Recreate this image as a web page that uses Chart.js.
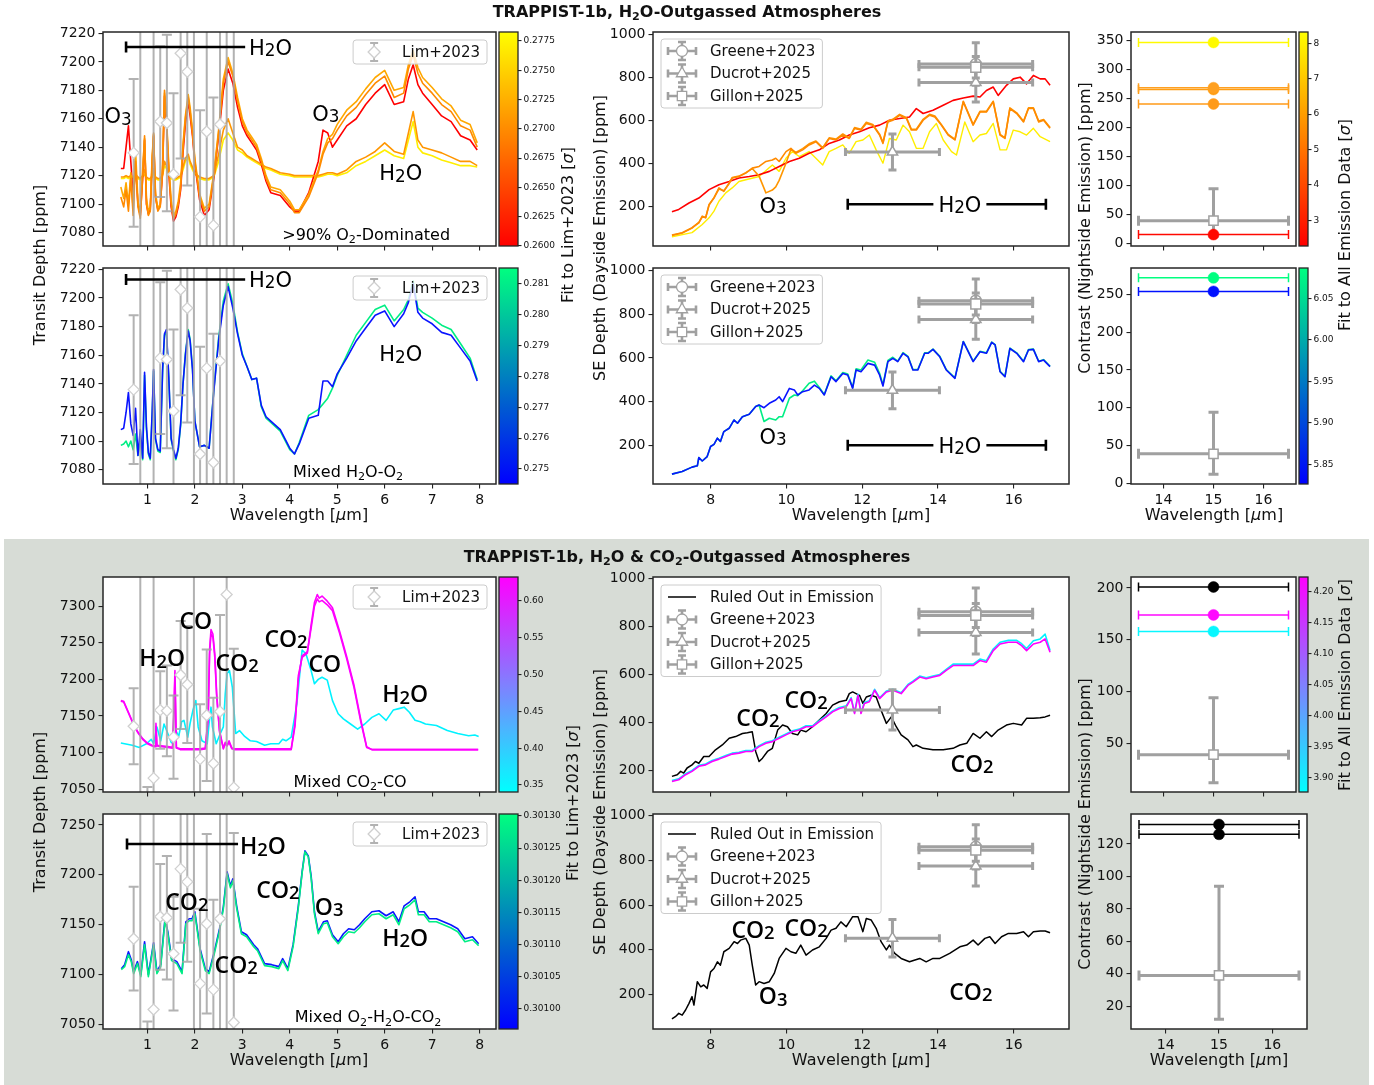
<!DOCTYPE html>
<html>
<head>
<meta charset="utf-8">
<script src="https://cdn.jsdelivr.net/npm/chart.js@4.4.1/dist/chart.umd.min.js"></script>
<style>
body{margin:0;background:#fff;}
#fig{position:relative;width:1374px;height:1085px;overflow:hidden;font-family:"DejaVu Sans",sans-serif;color:#111;}
#fig canvas{position:absolute;}
.bg{position:absolute;left:4px;top:539px;width:1365px;height:546px;background:#d7dcd6;}
.lbl{position:absolute;white-space:nowrap;font-size:16px;transform:translate(-50%,-50%);line-height:1;}
.rot{transform:translate(-50%,-50%) rotate(-90deg);}
.ttl{font-weight:bold;font-size:16px;}
sub{font-size:70%;vertical-align:-0.25em;line-height:0;}
</style>
</head>
<body>
<div id="fig"><div class="bg"></div></div>
<script>
// ---------- transmission spectra (wavelength um, depth ppm) ----------
const wlT = [0.44,0.5,0.55,0.6,0.65,0.7,0.75,0.8,0.85,0.9,
  0.94,0.98,1.02,1.06,1.1,1.13,1.17,1.22,1.27,1.32,
  1.36,1.4,1.45,1.5,1.55,1.6,1.65,1.7,1.75,1.8,
  1.86,1.9,1.95,2.0,2.1,2.2,2.3,2.4,2.5,2.6,
  2.7,2.8,2.9,3.0,3.1,3.2,3.3,3.4,3.5,3.6,
  3.8,4.0,4.1,4.2,4.4,4.6,4.7,4.8,4.9,5.0,
  5.2,5.4,5.6,5.8,6.0,6.2,6.4,6.5,6.6,6.7,
  6.8,7.0,7.2,7.4,7.6,7.8,7.95];
const o2HiA = [7105,7098,7110,7095,7118,7092,7130,7098,7090,7120,
  7148,7100,7092,7095,7130,7150,7105,7095,7098,7125,
  7180,7160,7125,7100,7090,7093,7100,7112,7140,7160,
  7175,7165,7150,7130,7105,7095,7098,7120,7150,7185,
  7200,7190,7172,7158,7150,7145,7140,7130,7118,7110,
  7108,7100,7094,7094,7105,7122,7135,7143,7146,7152,
  7162,7168,7177,7185,7190,7175,7178,7195,7205,7192,
  7185,7178,7170,7165,7155,7152,7140];
const o2HiB = [7112,7104,7115,7100,7122,7096,7138,7102,7094,7125,
  7146,7104,7095,7098,7134,7149,7108,7097,7100,7128,
  7178,7162,7128,7103,7092,7095,7102,7115,7142,7162,
  7177,7168,7152,7132,7107,7097,7100,7122,7152,7188,
  7203,7192,7175,7160,7152,7147,7142,7132,7120,7112,
  7110,7102,7096,7096,7107,7124,7137,7146,7149,7156,
  7166,7172,7181,7189,7194,7180,7182,7198,7208,7196,
  7189,7182,7174,7169,7159,7156,7143];
const o2Red = [7125,7125,7140,7155,7130,7105,7128,7100,7092,7118,
  7145,7100,7093,7096,7128,7148,7105,7096,7099,7122,
  7176,7158,7122,7098,7088,7091,7098,7110,7136,7156,
  7172,7162,7148,7128,7103,7092,7096,7118,7148,7180,
  7195,7185,7168,7155,7148,7143,7138,7128,7116,7108,
  7106,7098,7095,7095,7108,7130,7152,7150,7140,7145,
  7155,7160,7170,7178,7184,7170,7172,7188,7198,7184,
  7178,7170,7162,7158,7148,7145,7138];
const o2LowA = [7119,7119,7120,7119,7120,7119,7121,7119,7118,7120,
  7124,7119,7118,7118,7120,7125,7119,7118,7118,7121,
  7130,7127,7121,7119,7118,7118,7119,7120,7126,7132,
  7135,7130,7126,7122,7119,7118,7118,7120,7135,7152,
  7160,7150,7140,7138,7134,7132,7130,7128,7126,7125,
  7122,7121,7120,7120,7120,7120,7121,7122,7122,7121,
  7124,7130,7133,7137,7143,7137,7135,7150,7165,7145,
  7140,7138,7136,7133,7130,7130,7127];
const o2LowB = [7118,7118,7119,7118,7119,7118,7120,7118,7117,7119,
  7121,7118,7117,7117,7119,7122,7118,7117,7117,7120,
  7127,7125,7120,7118,7117,7117,7118,7119,7124,7130,
  7133,7128,7124,7121,7118,7117,7117,7119,7130,7145,
  7150,7145,7138,7136,7133,7131,7129,7127,7125,7124,
  7121,7120,7119,7119,7119,7119,7120,7121,7121,7120,
  7122,7127,7130,7134,7138,7134,7132,7145,7158,7140,
  7136,7134,7131,7129,7127,7127,7126];
const mixBlue = [7108,7109,7120,7134,7112,7104,7123,7090,7108,7088,
  7148,7110,7092,7088,7120,7150,7102,7094,7093,7150,
  7175,7178,7145,7102,7094,7088,7095,7112,7140,7160,
  7177,7170,7150,7114,7096,7097,7095,7135,7170,7195,
  7208,7193,7175,7160,7152,7143,7144,7125,7117,7114,
  7108,7095,7091,7098,7116,7118,7142,7142,7138,7147,
  7158,7170,7179,7188,7191,7180,7189,7197,7210,7190,
  7186,7182,7176,7174,7165,7156,7142];
const mixGreen = [7097,7098,7100,7096,7100,7094,7105,7090,7100,7087,
  7146,7108,7091,7087,7118,7149,7101,7093,7092,7148,
  7174,7176,7144,7101,7093,7087,7094,7111,7140,7161,
  7178,7171,7151,7114,7096,7097,7095,7136,7172,7198,
  7210,7196,7176,7161,7152,7143,7144,7124,7116,7113,
  7107,7094,7091,7099,7118,7122,7126,7130,7137,7146,
  7160,7174,7183,7192,7195,7184,7192,7199,7212,7193,
  7190,7186,7181,7178,7168,7158,7143];

const wlCO = [0.44,0.5,0.6,0.7,0.8,0.9,1.0,1.1,1.16,1.18,1.2,1.43,1.53,1.56,1.58,1.61,1.69,2.11,2.22,2.28,
  2.31,2.34,2.38,2.42,2.46,2.52,2.6,2.64,2.68,2.72,2.78,2.83,3.2,4.03,4.11,4.18,4.26,4.37,4.45,4.52,
  4.58,4.62,4.68,4.79,4.9,5.05,5.2,5.35,5.5,5.62,5.73,7.97];
const coMagA = [7171,7170,7155,7140,7128,7119,7113,7110,7109,7140,7110,7108,7107,7160,7212,7107,7105,7105,7106,7150,
  7240,7268,7262,7235,7180,7130,7106,7114,7110,7116,7106,7105,7105,7105,7140,7205,7230,7236,7275,7305,
  7316,7311,7314,7307,7298,7266,7231,7193,7144,7108,7104,7104];
const coMagB = [7170,7169,7154,7139,7127,7118,7112,7109,7108,7136,7109,7107,7106,7155,7205,7106,7104,7104,7105,7145,
  7235,7262,7258,7230,7176,7128,7105,7112,7109,7114,7105,7104,7104,7104,7136,7200,7232,7238,7270,7300,
  7310,7306,7308,7302,7294,7263,7228,7190,7141,7107,7104,7104];
const wlCy = [0.44,0.68,0.83,0.98,1.08,1.13,1.2,1.28,1.35,1.43,1.5,1.54,1.6,1.66,1.72,1.77,1.85,1.9,1.96,2.02,
  2.07,2.15,2.26,2.3,2.34,2.37,2.45,2.53,2.6,2.64,2.68,2.73,2.79,2.86,2.94,3.05,3.17,3.3,3.47,3.6,
  3.77,3.85,3.92,4.03,4.15,4.26,4.34,4.45,4.52,4.6,4.68,4.79,4.9,5.02,5.13,5.28,5.43,5.58,5.73,5.88,
  6.03,6.18,6.3,6.41,6.52,6.64,6.75,6.86,7.09,7.32,7.54,7.77,7.9,7.98];
const coCyan = [7113,7110,7107,7112,7118,7112,7135,7116,7139,7126,7114,7112,7130,7122,7142,7144,7121,7140,7158,7171,
  7135,7116,7112,7140,7162,7135,7112,7125,7135,7180,7208,7212,7189,7126,7130,7122,7116,7115,7110,7112,
  7112,7118,7116,7121,7167,7240,7235,7212,7194,7200,7203,7199,7171,7153,7146,7139,7132,7139,7148,7153,
  7144,7158,7160,7162,7155,7144,7142,7139,7137,7130,7126,7123,7124,7122];

const wlM = [0.45,0.52,0.6,0.66,0.71,0.79,0.86,0.94,1.02,1.13,1.2,1.28,1.37,1.43,1.51,1.62,1.73,1.81,1.88,1.94,
  2.0,2.03,2.11,2.22,2.3,2.41,2.52,2.6,2.68,2.75,2.8,2.88,2.98,3.09,3.24,3.32,3.47,3.62,3.77,3.85,
  3.96,4.07,4.18,4.26,4.32,4.39,4.45,4.52,4.6,4.71,4.79,4.9,5.02,5.13,5.24,5.36,5.47,5.58,5.73,5.88,
  6.03,6.18,6.3,6.41,6.53,6.64,6.71,6.83,6.94,7.09,7.24,7.39,7.54,7.69,7.85,7.98];
const mBlue = [7106,7110,7123,7115,7103,7113,7100,7133,7100,7132,7103,7110,7156,7143,7116,7113,7103,7153,7156,7156,
  7163,7153,7126,7106,7103,7123,7146,7168,7203,7189,7196,7169,7143,7140,7130,7126,7111,7110,7108,7116,
  7106,7130,7169,7203,7224,7219,7199,7163,7143,7153,7154,7140,7133,7141,7146,7145,7150,7156,7163,7164,
  7159,7163,7153,7169,7173,7178,7163,7163,7156,7156,7153,7150,7146,7136,7138,7131];
const mGreen = [7105,7108,7120,7113,7101,7111,7098,7130,7098,7130,7101,7108,7154,7141,7114,7111,7101,7151,7154,7154,
  7161,7151,7124,7104,7101,7121,7144,7166,7201,7187,7194,7167,7141,7138,7128,7124,7109,7108,7106,7114,
  7104,7128,7167,7202,7223,7218,7197,7161,7141,7151,7152,7138,7131,7138,7143,7142,7147,7153,7160,7161,
  7156,7160,7150,7166,7170,7175,7160,7160,7153,7153,7150,7147,7143,7133,7135,7129];

// Lim+2023 NIRISS points
const limX = [0.71,0.85,1.00,1.13,1.27,1.41,1.55,1.70,1.84,1.98,2.11,2.25,2.39,2.53,2.67,2.82];
const limY = [7136,7020,7030,7065,7158,7157,7121,7206,7193,7040,7091,7151,7085,7156,7316,7052];
const limErr = [52,340,23,310,53,62,57,74,80,330,75,90,90,132,300,190];

// ---------- dayside emission spectra (wavelength um, ppm) ----------
const wlRed = [6.98,7.16,7.43,7.69,7.96,8.22,8.49,8.75,9.02,9.28,9.55,9.81,10.08,10.34,10.6,10.87,11.13,11.4,11.66,11.93,
  12.19,12.46,12.72,12.99,13.25,13.43,13.61,13.87,14.14,14.4,14.67,14.93,15.11,15.28,15.46,15.59,15.81,15.99,16.17,16.34,
  16.52,16.7,16.83,16.96];
const emRed = [174,185,215,238,277,300,315,331,338,346,362,385,408,423,446,462,492,508,531,546,
  565,577,600,608,615,654,631,646,669,692,703,712,708,738,754,715,762,792,800,769,
  808,792,792,762];
const wlOr = [6.98,7.25,7.51,7.69,7.78,7.87,7.96,8.09,8.22,8.35,8.49,8.57,8.75,8.93,9.1,9.28,9.46,9.63,9.72,9.81,
  9.99,10.12,10.25,10.43,10.6,10.78,10.96,11.13,11.31,11.49,11.66,11.8,11.97,12.11,12.28,12.46,12.55,12.68,12.81,12.99,
  13.17,13.3,13.43,13.61,13.78,13.92,14.09,14.27,14.45,14.67,14.93,15.11,15.28,15.46,15.64,15.77,15.9,16.08,16.26,16.39,
  16.52,16.66,16.79,16.96];
const emOrA = [66,77,100,123,154,146,208,238,285,269,308,331,338,354,377,385,408,415,423,408,
  454,469,446,462,485,500,469,515,508,531,515,562,554,585,577,531,492,592,600,623,
  608,554,554,600,623,615,577,531,508,685,577,638,638,685,531,515,654,631,592,654,
  654,592,600,562];
const emOrB = [64,75,98,125,150,148,205,240,280,272,305,333,340,356,375,340,262,275,290,320,
  400,465,450,468,490,503,472,518,512,536,518,566,558,590,580,535,496,596,604,627,
  612,558,558,604,627,619,580,534,511,688,580,641,641,688,534,518,657,634,595,657,
  657,596,603,566];
const wlYe = [6.98,7.51,7.78,7.96,8.09,8.22,8.4,8.57,8.75,8.93,9.28,9.63,9.81,9.99,10.16,10.34,10.6,10.96,11.13,11.31,
  11.49,11.66,11.84,12.02,12.19,12.37,12.55,12.72,12.9,13.08,13.25,13.43,13.61,13.78,13.96,14.14,14.36,14.49,14.71,14.93,
  15.11,15.28,15.46,15.64,15.81,15.99,16.17,16.34,16.52,16.7,16.96];
const emYe = [58,77,115,146,177,223,262,285,315,323,338,392,362,423,454,431,454,392,454,469,
  485,446,500,508,531,462,400,515,508,577,546,469,469,546,585,508,454,438,592,500,
  531,538,585,462,462,554,546,531,562,523,500];
const wlMx = [6.98,7.25,7.51,7.65,7.69,7.78,7.91,8.0,8.09,8.18,8.26,8.35,8.49,8.62,8.71,8.84,9.02,9.19,9.28,9.41,
  9.55,9.72,9.81,9.9,10.08,10.21,10.3,10.43,10.6,10.74,10.87,11.0,11.18,11.31,11.49,11.62,11.75,11.84,11.97,12.15,
  12.33,12.46,12.55,12.68,12.81,12.94,13.08,13.21,13.34,13.47,13.65,13.74,13.87,14.05,14.22,14.45,14.67,14.93,15.11,15.28,
  15.42,15.51,15.64,15.77,15.9,16.08,16.26,16.39,16.52,16.66,16.79,16.96];
const emMxBlue = [70,82,102,108,146,130,150,196,206,234,219,264,279,317,302,332,343,378,385,373,
  393,408,423,401,461,454,431,446,454,476,461,431,514,492,529,522,461,545,537,575,
  567,522,472,583,598,583,621,605,545,545,621,621,639,605,545,507,674,583,628,621,
  671,659,537,514,643,621,583,636,639,583,590,560];
const emMxGreen = [70,82,102,108,146,130,150,196,206,234,219,264,279,317,302,332,343,378,385,310,
  325,317,332,332,416,431,428,450,484,494,465,433,518,496,533,526,465,550,545,590,
  580,530,478,588,603,585,624,607,547,547,623,623,640,607,547,509,675,585,630,623,
  672,660,539,516,645,623,585,638,640,585,592,562];
const wlRu = [6.98,7.12,7.21,7.29,7.38,7.51,7.6,7.69,7.82,7.96,8.13,8.31,8.49,8.66,8.84,8.97,9.1,9.19,9.28,9.37,
  9.5,9.63,9.77,9.9,10.03,10.16,10.3,10.38,10.52,10.69,10.87,11.05,11.22,11.4,11.58,11.66,11.75,11.84,11.93,12.02,
  12.11,12.24,12.37,12.5,12.64,12.77,12.9,13.03,13.21,13.34,13.43,13.61,13.87,14.14,14.4,14.58,14.76,14.93,15.11,15.28,
  15.42,15.59,15.81,15.99,16.21,16.34,16.52,16.7,16.83,16.96];
const emRuledCO = [175,182,196,189,210,223,237,230,258,258,286,306,334,341,354,357,361,279,237,251,
  279,292,368,389,382,354,348,368,361,382,410,437,472,486,492,520,527,520,513,479,
  506,513,506,451,396,423,382,348,327,299,306,292,286,286,292,306,313,354,334,361,
  341,368,389,396,389,417,417,419,423,430];
const wlCM = [6.98,7.16,7.34,7.51,7.69,7.87,8.04,8.22,8.4,8.57,8.75,8.93,9.1,9.28,9.46,9.63,9.81,9.99,10.16,10.34,
  10.52,10.69,10.87,11.05,11.22,11.4,11.58,11.71,11.8,11.89,11.97,12.06,12.19,12.33,12.46,12.64,12.81,13.03,13.21,13.34,
  13.52,13.69,13.87,14.05,14.22,14.4,14.67,14.93,15.11,15.28,15.46,15.64,15.86,16.08,16.21,16.34,16.52,16.7,16.83,16.96];
const emCOMag = [154,161,182,196,217,223,237,247,258,268,272,279,279,299,313,320,334,348,361,368,
  382,382,403,423,444,458,465,499,437,513,437,479,486,534,499,527,534,520,554,568,
  589,582,589,596,617,637,637,637,658,651,699,727,734,734,720,699,727,734,748,692];
const emCOCyan = [158,165,186,200,221,227,241,251,262,272,276,283,283,303,317,324,338,352,365,372,
  386,386,407,427,448,462,469,503,441,517,441,483,490,538,503,531,538,524,558,572,
  593,586,593,600,621,643,643,643,664,657,706,734,742,742,728,708,740,748,768,700];
const wlRu4 = [6.98,7.07,7.16,7.25,7.34,7.43,7.51,7.56,7.65,7.74,7.82,7.91,8.0,8.09,8.18,8.26,8.35,8.49,8.62,8.71,
  8.79,8.93,9.02,9.1,9.19,9.28,9.41,9.55,9.68,9.81,9.99,10.12,10.25,10.38,10.52,10.69,10.87,11.05,11.18,11.31,
  11.44,11.58,11.75,11.89,12.02,12.11,12.24,12.37,12.5,12.64,12.72,12.86,13.03,13.25,13.52,13.69,13.87,14.05,14.31,14.58,
  14.76,14.93,15.06,15.24,15.37,15.51,15.68,15.86,16.08,16.26,16.39,16.52,16.7,16.83,16.96];
const emRuledMix = [90,100,115,107,130,160,190,152,257,234,242,227,301,316,346,331,391,406,436,428,
  443,451,421,331,242,257,249,257,294,361,406,391,384,421,376,399,413,451,488,496,
  525,503,548,548,481,540,533,496,436,399,421,384,361,346,361,346,361,361,384,413,
  421,443,421,451,458,428,458,473,473,481,458,481,484,484,476];

// MIRI 15 / 12.8 um eclipse points
const greeneX = [15], greeneY = [861], greeneEY = [99], greeneEX = [1.5];
const ducrotX = [12.8, 15], ducrotY = [452, 775], ducrotEY = [84, 90], ducrotEX = [1.24, 1.5];
const gillonX = [15], gillonY = [846], gillonEY = [50], gillonEX = [1.5];

// nightside contrast
const nightX = [15], nightY = [39], nightErrY = [[12, 94]], nightErrX = [1.5];
const ncH2O = [346, 268, 265, 240, 15];
const ncMix = [272, 254];
const ncCO = [201, 174, 158];
const ncMix2 = [132, 126];

// tick labels
const tT1 = [7080,7100,7120,7140,7160,7180,7200,7220];
const tT3 = [7050,7100,7150,7200,7250,7300];
const tT4 = [7050,7100,7150,7200,7250];
const tE = [200,400,600,800,1000];
const tN1 = [0,50,100,150,200,250,300,350];
const tN2 = [0,50,100,150,200,250];
const tN3 = [50,100,150,200];
const tN4 = [20,40,60,80,100,120];
const tWlT = [1,2,3,4,5,6,7,8];
const tWlE = [8,10,12,14,16];
const tWlN = [14,15,16];
const cbT1 = [0.2600,0.2625,0.2650,0.2675,0.2700,0.2725,0.2750,0.2775];
const cbT2 = [0.275,0.276,0.277,0.278,0.279,0.280,0.281];
const cbE1 = [3,4,5,6,7,8];
const cbE2 = [5.85,5.90,5.95,6.00,6.05];
const cbT3 = [0.35,0.40,0.45,0.50,0.55,0.60];
const cbT4 = [0.30100,0.30105,0.30110,0.30115,0.30120,0.30125,0.30130];
const cbE3 = [3.90,3.95,4.00,4.05,4.10,4.15,4.20];

// ---------- helpers ----------
Chart.defaults.font.family = '"DejaVu Sans", sans-serif';
const fig = document.getElementById('fig');
const FAM = '"DejaVu Sans"';

function addCanvas(left, top, w, h) {
  const c = document.createElement('canvas');
  c.width = w; c.height = h;
  c.style.left = left + 'px'; c.style.top = top + 'px';
  c.style.width = w + 'px'; c.style.height = h + 'px';
  fig.appendChild(c);
  return c;
}
const pts = (xs, ys) => xs.map((x, i) => ({x: x, y: ys[i]}));
function lineDs(xs, ys, color, w) {
  return {data: pts(xs, ys), showLine: true, borderColor: color, borderWidth: w || 1.6,
    pointRadius: 0, pointHoverRadius: 0, borderJoinStyle: 'round', fill: false, tension: 0};
}
function errDs(xs, ys, o) {
  return {data: pts(xs, ys), showLine: false, pointStyle: o.marker, pointRadius: o.r,
    backgroundColor: o.fill, borderColor: o.edge, borderWidth: o.bw || 1.2,
    errX: o.ex, errY: o.ey, errColor: o.ec, errWidth: o.ew, cap: o.cap};
}
const limDs = () => errDs(limX, limY, {marker: 'rectRot', r: 5.5, fill: '#fff', edge: '#d0d0d0', bw: 1.3,
  ey: limErr, ec: 'rgba(165,165,165,0.85)', ew: 2, cap: 5});
const emErrDs = () => [
  errDs(gillonX, gillonY, {marker: 'rect', r: 7, fill: '#fff', edge: '#a0a0a0', bw: 1.5, ex: gillonEX, ey: gillonEY, ec: '#a0a0a0', ew: 3, cap: 4}),
  errDs(ducrotX, ducrotY, {marker: 'triangle', r: 6, fill: '#fff', edge: '#a0a0a0', bw: 1.5, ex: ducrotEX, ey: ducrotEY, ec: '#a0a0a0', ew: 3, cap: 4}),
  errDs(greeneX, greeneY, {marker: 'circle', r: 5.5, fill: '#fff', edge: '#a0a0a0', bw: 1.5, ex: greeneEX, ey: greeneEY, ec: '#a0a0a0', ew: 3, cap: 4})
];
const nightDs = () => errDs(nightX, nightY, {marker: 'rect', r: 6.5, fill: '#fff', edge: '#a0a0a0', bw: 1.5,
  ex: nightErrX, ey: nightErrY, ec: '#a0a0a0', ew: 3, cap: 5});
const dotDs = (y, color) => errDs([15], [y], {marker: 'circle', r: 5.5, fill: color, edge: color, bw: 0.5,
  ex: [1.5], ec: color, ew: 1.5, cap: 4.5});

const errorBars = {
  id: 'errorBars',
  beforeDatasetDraw(chart, args) {
    const ds = chart.data.datasets[args.index];
    if (!ds.errX && !ds.errY) return;
    const {ctx, chartArea: a, scales: {x, y}} = chart;
    ctx.save();
    ctx.beginPath(); ctx.rect(a.left, a.top, a.right - a.left, a.bottom - a.top); ctx.clip();
    ctx.strokeStyle = ds.errColor; ctx.lineWidth = ds.errWidth;
    const c = ds.cap;
    ds.data.forEach((p, i) => {
      const px = x.getPixelForValue(p.x), py = y.getPixelForValue(p.y);
      ctx.beginPath();
      if (ds.errX) {
        const x0 = x.getPixelForValue(p.x - ds.errX[i]), x1 = x.getPixelForValue(p.x + ds.errX[i]);
        ctx.moveTo(x0, py); ctx.lineTo(x1, py);
        ctx.moveTo(x0, py - c); ctx.lineTo(x0, py + c);
        ctx.moveTo(x1, py - c); ctx.lineTo(x1, py + c);
      }
      if (ds.errY) {
        const e = ds.errY[i];
        const lo = Array.isArray(e) ? e[0] : p.y - e, hi = Array.isArray(e) ? e[1] : p.y + e;
        const y0 = y.getPixelForValue(lo), y1 = y.getPixelForValue(hi);
        ctx.moveTo(px, y0); ctx.lineTo(px, y1);
        ctx.moveTo(px - c, y0); ctx.lineTo(px + c, y0);
        ctx.moveTo(px - c, y1); ctx.lineTo(px + c, y1);
      }
      ctx.stroke();
    });
    ctx.restore();
  }
};

function drawMarker(ctx, kind, x, y, r, fill, edge, lw) {
  ctx.beginPath();
  if (kind === 'circle') ctx.arc(x, y, r, 0, Math.PI * 2);
  else if (kind === 'triangle') { ctx.moveTo(x, y - r); ctx.lineTo(x + r * 0.866, y + r * 0.5); ctx.lineTo(x - r * 0.866, y + r * 0.5); ctx.closePath(); }
  else if (kind === 'square') ctx.rect(x - r * 0.72, y - r * 0.72, r * 1.44, r * 1.44);
  else { ctx.moveTo(x, y - r); ctx.lineTo(x + r, y); ctx.lineTo(x, y + r); ctx.lineTo(x - r, y); ctx.closePath(); }
  ctx.fillStyle = fill; ctx.fill();
  ctx.strokeStyle = edge; ctx.lineWidth = lw; ctx.stroke();
}

// chem: digits drawn a little smaller; mt: "_x" marks a mathtext-style subscript
function drawText(ctx, t, px, py) {
  const size = t.size || 21, fam = t.family || FAM, wt = t.weight || 'normal';
  const parts = [];
  const chars = Array.from(t.s);
  for (let i = 0; i < chars.length; i++) {
    const ch = chars[i];
    if (t.mt && ch === '_') { parts.push({ch: chars[++i], k: 'sub'}); continue; }
    parts.push({ch: ch, k: (t.chem && /\d/.test(ch)) ? 'dig' : ''});
  }
  const sz = p => p.k === 'sub' ? size * 0.7 : (p.k === 'dig' ? size * 0.8 : size);
  const dy = p => p.k === 'sub' ? size * 0.22 : (p.k === 'dig' ? size * 0.06 : 0);
  let w = 0;
  parts.forEach(p => { ctx.font = wt + ' ' + sz(p) + 'px ' + fam; p.w = ctx.measureText(p.ch).width; w += p.w; });
  let cx = t.align === 'left' ? px : px - w / 2;
  const base = py + size * 0.36;
  if (t.bg) { ctx.fillStyle = t.bg; ctx.fillRect(cx - 5, py - size * 0.45, w + 10, size * 0.9); }
  ctx.fillStyle = '#000'; ctx.textAlign = 'left'; ctx.textBaseline = 'alphabetic';
  parts.forEach(p => {
    ctx.font = wt + ' ' + sz(p) + 'px ' + fam;
    ctx.fillText(p.ch, cx, base + dy(p));
    cx += p.w;
  });
}

function drawLegend(ctx, a, L) {
  ctx.save();
  ctx.font = '15px ' + FAM;
  const tw = Math.max(...L.items.map(it => ctx.measureText(it.label).width));
  const rowH = 22.5, w = 49 + tw + 7, h = 24 + rowH * (L.items.length - 1);
  const left = L.side === 'right' ? a.right - L.dx - w : a.left + L.dx;
  const top = a.top + L.dy;
  ctx.beginPath();
  if (ctx.roundRect) ctx.roundRect(left, top, w, h, 3); else ctx.rect(left, top, w, h);
  ctx.fillStyle = 'rgba(255,255,255,0.8)'; ctx.fill();
  ctx.strokeStyle = '#cccccc'; ctx.lineWidth = 1; ctx.stroke();
  L.items.forEach((it, i) => {
    const cy = top + 12 + i * rowH, hx = left + 21;
    ctx.beginPath();
    if (it.kind === 'line') {
      ctx.strokeStyle = '#000'; ctx.lineWidth = 1.5;
      ctx.moveTo(hx - 14, cy); ctx.lineTo(hx + 14, cy); ctx.stroke();
    } else {
      ctx.strokeStyle = it.color; ctx.lineWidth = it.lw;
      if (it.kind === 'errHV') {
        ctx.moveTo(hx - 14, cy); ctx.lineTo(hx + 14, cy);
        ctx.moveTo(hx - 14, cy - 4); ctx.lineTo(hx - 14, cy + 4);
        ctx.moveTo(hx + 14, cy - 4); ctx.lineTo(hx + 14, cy + 4);
      }
      ctx.moveTo(hx, cy - 9); ctx.lineTo(hx, cy + 9);
      ctx.moveTo(hx - 4, cy - 9); ctx.lineTo(hx + 4, cy - 9);
      ctx.moveTo(hx - 4, cy + 9); ctx.lineTo(hx + 4, cy + 9);
      ctx.stroke();
      drawMarker(ctx, it.marker, hx, cy, it.r, '#fff', it.edge, 1.3);
    }
    ctx.fillStyle = '#111'; ctx.font = '15px ' + FAM; ctx.textBaseline = 'middle'; ctx.textAlign = 'left';
    ctx.fillText(it.label, left + 49, cy + 1);
  });
  ctx.restore();
}

const deco = {
  id: 'deco',
  beforeDraw(chart) {
    const {ctx, chartArea: a} = chart;
    ctx.save(); ctx.fillStyle = '#fff';
    ctx.fillRect(a.left, a.top, a.right - a.left, a.bottom - a.top); ctx.restore();
  },
  afterDatasetsDraw(chart) {
    const d = chart.canvas._deco || {};
    const {ctx, chartArea: a, scales: {x, y}} = chart;
    ctx.save();
    ctx.beginPath(); ctx.rect(a.left, a.top, a.right - a.left, a.bottom - a.top); ctx.clip();
    (d.bars || []).forEach(b => {
      const x0 = x.getPixelForValue(b.x0), x1 = x.getPixelForValue(b.x1), py = y.getPixelForValue(b.y);
      ctx.strokeStyle = '#000'; ctx.lineWidth = 2.6; ctx.beginPath();
      ctx.moveTo(x0, py); ctx.lineTo(x1, py);
      if (b.capL) { ctx.moveTo(x0, py - 5.5); ctx.lineTo(x0, py + 5.5); }
      if (b.capR) { ctx.moveTo(x1, py - 5.5); ctx.lineTo(x1, py + 5.5); }
      ctx.stroke();
    });
    (d.texts || []).forEach(t => drawText(ctx, t, x.getPixelForValue(t.x), y.getPixelForValue(t.y)));
    ctx.restore();
    ctx.save(); ctx.strokeStyle = '#262626'; ctx.lineWidth = 1.5;
    ctx.strokeRect(a.left, a.top, a.right - a.left, a.bottom - a.top); ctx.restore();
    if (d.legend) drawLegend(ctx, a, d.legend);
  }
};

function axis(range, ticks, show, which, size, dec, fs) {
  return {
    type: 'linear', min: range[0], max: range[1],
    position: which === 'x' ? 'bottom' : (which === 'cb' ? 'right' : 'left'),
    afterBuildTicks: s => { s.ticks = ticks.map(v => ({value: v})); },
    afterFit: s => { if (which === 'x') s.height = size; else s.width = size; },
    ticks: {display: show, autoSkip: false, maxRotation: 0, minRotation: 0, padding: which === 'cb' ? 2 : 3,
      color: '#111', font: {size: fs || 14}, callback: v => Number(v).toFixed(dec)},
    grid: {display: true, drawOnChartArea: false, drawTicks: true, tickLength: which === 'cb' ? 3.5 : 4.5,
      color: '#222', lineWidth: 1.1},
    border: {display: false}
  };
}

function panel(r, cfg) {
  const padT = 12, padR = 16, yW = 74, xH = 30;
  const c = addCanvas(r.l - yW, r.t - padT, r.r - r.l + yW + padR, r.b - r.t + padT + xH);
  c._deco = cfg.deco;
  new Chart(c, {
    type: 'scatter',
    data: {datasets: cfg.datasets},
    options: {
      responsive: false, animation: false, devicePixelRatio: 1, events: [],
      layout: {padding: {top: padT, right: padR, left: 0, bottom: 0}},
      plugins: {legend: {display: false}, tooltip: {enabled: false}},
      scales: {
        x: axis(cfg.xr, cfg.xt, cfg.xl, 'x', xH, 0),
        y: axis(cfg.yr, cfg.yt, true, 'y', yW, 0)
      }
    },
    plugins: [errorBars, deco]
  });
}

const cbarPaint = {
  id: 'cbarPaint',
  beforeDatasetsDraw(chart) {
    const cm = chart.canvas._cmap; if (!cm) return;
    const {ctx, chartArea: a} = chart;
    const g = ctx.createLinearGradient(0, a.bottom, 0, a.top);
    for (let i = 0; i <= 20; i++) g.addColorStop(i / 20, cm(i / 20));
    ctx.save();
    ctx.fillStyle = g; ctx.fillRect(a.left, a.top, a.right - a.left, a.bottom - a.top);
    ctx.strokeStyle = '#262626'; ctx.lineWidth = 1.3;
    ctx.strokeRect(a.left, a.top, a.right - a.left, a.bottom - a.top);
    ctx.restore();
  }
};
const autumn = t => 'rgb(255,' + Math.round(255 * t) + ',0)';
const winter = t => 'rgb(0,' + Math.round(255 * t) + ',' + Math.round(255 * (1 - 0.5 * t)) + ')';
const cool = t => 'rgb(' + Math.round(255 * t) + ',' + Math.round(255 * (1 - t)) + ',255)';

function colorbar(r, range, ticks, dec, cmap) {
  const padT = 10, padL = 1, axW = 50;
  const c = addCanvas(r.l - padL, r.t - padT, r.r - r.l + padL + axW, r.b - r.t + 2 * padT);
  c._cmap = cmap;
  new Chart(c, {
    type: 'scatter', data: {datasets: []},
    options: {
      responsive: false, animation: false, devicePixelRatio: 1, events: [],
      layout: {padding: {left: padL, top: padT, bottom: padT, right: 0}},
      plugins: {legend: {display: false}, tooltip: {enabled: false}},
      scales: {x: {display: false, min: 0, max: 1}, y: axis(range, ticks, true, 'cb', axW, dec, 9)}
    },
    plugins: [cbarPaint]
  });
}

// ---------- styles / layout ----------
const RED = '#ff0000', OR1 = '#ff8a00', OR2 = '#ffa800', OR3 = '#ff9600', YEL = '#ffee00';
const BLU = '#0a14ff', GRN = '#00ee84', CYA = '#00f2ff', MAG = '#ff00ff';
const xrT = [0.064, 8.346], xrE = [6.48, 17.46], xrN = [13.35, 16.65];
const limLegend = {side: 'right', dx: 9, dy: 8, items: [
  {label: 'Lim+2023', kind: 'errV', marker: 'diamond', r: 6, color: 'rgba(170,170,170,0.9)', edge: '#cfcfcf', lw: 1.8}]};
const emItems = [
  {label: 'Greene+2023', kind: 'errHV', marker: 'circle', r: 5.5, color: '#a0a0a0', edge: '#a0a0a0', lw: 2.6},
  {label: 'Ducrot+2025', kind: 'errHV', marker: 'triangle', r: 6.5, color: '#a0a0a0', edge: '#a0a0a0', lw: 2.6},
  {label: 'Gillon+2025', kind: 'errHV', marker: 'square', r: 6.5, color: '#a0a0a0', edge: '#a0a0a0', lw: 2.6}];
const emLegend = {side: 'left', dx: 8, dy: 7, items: emItems};
const emLegend2 = {side: 'left', dx: 8, dy: 8, items: [{label: 'Ruled Out in Emission', kind: 'line'}].concat(emItems)};
const BF = '"Open Sans"', BW = '600', BS = 23;

// row 1
panel({l: 103, t: 32, r: 496, b: 246}, {
  xr: xrT, xt: tWlT, xl: false, yr: [7070.5, 7221], yt: tT1,
  datasets: [limDs(), lineDs(wlT, o2HiA, OR1), lineDs(wlT, o2HiB, OR2), lineDs(wlT, o2LowA, OR3),
    lineDs(wlT, o2Red, RED), lineDs(wlT, o2LowB, YEL)],
  deco: {legend: limLegend,
    bars: [{x0: 0.55, x1: 3.06, y: 7210.4, capL: true}],
    texts: [{x: 3.14, y: 7210.4, s: 'H2O', chem: true, align: 'left'},
      {x: 0.38, y: 7162, s: 'O3', chem: true}, {x: 4.76, y: 7164, s: 'O3', chem: true},
      {x: 6.34, y: 7122, s: 'H2O', chem: true},
      {x: 5.61, y: 7079, s: '>90% O_2-Dominated', mt: true, size: 16}]}
});
panel({l: 653, t: 32, r: 1069, b: 246}, {
  xr: xrE, xt: tWlE, xl: false, yr: [15, 1010], yt: tE,
  datasets: emErrDs().concat([lineDs(wlOr, emOrA, OR1, 1.6), lineDs(wlOr, emOrB, OR3, 1.6),
    lineDs(wlRed, emRed, RED, 1.6), lineDs(wlYe, emYe, YEL, 1.4)]),
  deco: {legend: emLegend,
    bars: [{x0: 11.62, x1: 16.85, y: 209, capL: true, capR: true}],
    texts: [{x: 14.58, y: 209, s: 'H2O', chem: true, bg: '#fff'}, {x: 9.65, y: 204, s: 'O3', chem: true}]}
});
panel({l: 1131, t: 32, r: 1296, b: 246}, {
  xr: xrN, xt: tWlN, xl: false, yr: [-4.7, 364], yt: tN1,
  datasets: [dotDs(ncH2O[0], '#fffa00'), dotDs(ncH2O[1], '#ffa020'), dotDs(ncH2O[2], '#ff9c10'),
    dotDs(ncH2O[3], '#ff9a18'), dotDs(ncH2O[4], '#ff0800'), nightDs()],
  deco: {}
});
// row 2
panel({l: 103, t: 268, r: 496, b: 484}, {
  xr: xrT, xt: tWlT, xl: true, yr: [7070, 7221], yt: tT1,
  datasets: [limDs(), lineDs(wlT, mixBlue, BLU), lineDs(wlT, mixGreen, GRN)],
  deco: {legend: limLegend,
    bars: [{x0: 0.55, x1: 3.06, y: 7213, capL: true}],
    texts: [{x: 3.14, y: 7213, s: 'H2O', chem: true, align: 'left'},
      {x: 6.34, y: 7161, s: 'H2O', chem: true},
      {x: 5.23, y: 7079, s: 'Mixed H_2O-O_2', mt: true, size: 16}]}
});
panel({l: 653, t: 268, r: 1069, b: 484}, {
  xr: xrE, xt: tWlE, xl: true, yr: [25, 1010], yt: tE,
  datasets: emErrDs().concat([lineDs(wlMx, emMxBlue, BLU, 1.6), lineDs(wlMx, emMxGreen, GRN, 1.6)]),
  deco: {legend: emLegend,
    bars: [{x0: 11.62, x1: 16.85, y: 202, capL: true, capR: true}],
    texts: [{x: 14.58, y: 202, s: 'H2O', chem: true, bg: '#fff'}, {x: 9.65, y: 243, s: 'O3', chem: true}]}
});
panel({l: 1131, t: 268, r: 1296, b: 484}, {
  xr: xrN, xt: tWlN, xl: true, yr: [-1, 285], yt: tN2,
  datasets: [dotDs(ncMix[0], '#00ff80'), dotDs(ncMix[1], '#0010ff'), nightDs()],
  deco: {}
});
// row 3
panel({l: 103, t: 577, r: 496, b: 792}, {
  xr: xrT, xt: tWlT, xl: false, yr: [7046, 7340], yt: tT3,
  datasets: [limDs(), lineDs(wlCO, coMagA, MAG, 1.6), lineDs(wlCO, coMagB, MAG, 1.6), lineDs(wlCy, coCyan, CYA, 1.6)],
  deco: {legend: limLegend,
    texts: [{x: 2.02, y: 7280, s: 'CO', family: BF, weight: BW, size: BS},
      {x: 1.31, y: 7229, s: 'H2O', chem: true, family: BF, weight: BW, size: BS},
      {x: 2.89, y: 7223, s: 'CO2', chem: true, family: BF, weight: BW, size: BS},
      {x: 3.92, y: 7256, s: 'CO2', chem: true, family: BF, weight: BW, size: BS},
      {x: 4.74, y: 7221, s: 'CO', family: BF, weight: BW, size: BS},
      {x: 6.43, y: 7180, s: 'H2O', chem: true, family: BF, weight: BW, size: BS},
      {x: 5.27, y: 7061, s: 'Mixed CO_2-CO', mt: true, size: 16}]}
});
panel({l: 653, t: 577, r: 1069, b: 792}, {
  xr: xrE, xt: tWlE, xl: false, yr: [110, 1006], yt: tE,
  datasets: emErrDs().concat([lineDs(wlCM, emCOMag, MAG, 1.6), lineDs(wlCM, emCOCyan, CYA, 1.6),
    lineDs(wlRu, emRuledCO, '#000', 1.5)]),
  deco: {legend: emLegend2,
    texts: [{x: 9.25, y: 420, s: 'CO2', chem: true, family: BF, weight: BW, size: BS},
      {x: 10.52, y: 495, s: 'CO2', chem: true, family: BF, weight: BW, size: BS},
      {x: 14.9, y: 229, s: 'CO2', chem: true, family: BF, weight: BW, size: BS}]}
});
panel({l: 1131, t: 577, r: 1296, b: 792}, {
  xr: xrN, xt: tWlN, xl: false, yr: [3, 210.6], yt: tN3,
  datasets: [dotDs(ncCO[0], '#000000'), dotDs(ncCO[1], '#ff08ff'), dotDs(ncCO[2], '#08f7ff'), nightDs()],
  deco: {}
});
// row 4
panel({l: 103, t: 814, r: 496, b: 1029}, {
  xr: xrT, xt: tWlT, xl: true, yr: [7045.5, 7261], yt: tT4,
  datasets: [limDs(), lineDs(wlM, mGreen, GRN, 1.6), lineDs(wlM, mBlue, BLU, 1.6)],
  deco: {legend: limLegend,
    bars: [{x0: 0.57, x1: 2.91, y: 7231, capL: true}],
    texts: [{x: 2.95, y: 7229, s: 'H2O', chem: true, align: 'left', family: BF, weight: BW, size: BS},
      {x: 1.83, y: 7173, s: 'CO2', chem: true, family: BF, weight: BW, size: BS},
      {x: 3.75, y: 7185, s: 'CO2', chem: true, family: BF, weight: BW, size: BS},
      {x: 4.83, y: 7168, s: 'O3', chem: true, family: BF, weight: BW, size: BS},
      {x: 2.87, y: 7110, s: 'CO2', chem: true, family: BF, weight: BW, size: BS},
      {x: 6.43, y: 7137, s: 'H2O', chem: true, family: BF, weight: BW, size: BS},
      {x: 5.65, y: 7058, s: 'Mixed O_2-H_2O-CO_2', mt: true, size: 16}]}
});
panel({l: 653, t: 814, r: 1069, b: 1029}, {
  xr: xrE, xt: tWlE, xl: true, yr: [45, 1008], yt: tE,
  datasets: emErrDs().concat([lineDs(wlRu4, emRuledMix, '#000', 1.5)]),
  deco: {legend: emLegend2,
    texts: [{x: 9.12, y: 491, s: 'CO2', chem: true, family: BF, weight: BW, size: BS},
      {x: 10.52, y: 500, s: 'CO2', chem: true, family: BF, weight: BW, size: BS},
      {x: 9.65, y: 192, s: 'O3', chem: true, family: BF, weight: BW, size: BS},
      {x: 14.87, y: 214, s: 'CO2', chem: true, family: BF, weight: BW, size: BS}]}
});
panel({l: 1131, t: 814, r: 1307, b: 1029}, {
  xr: xrN, xt: tWlN, xl: true, yr: [6, 138.5], yt: tN4,
  datasets: [dotDs(ncMix2[0], '#000000'), dotDs(ncMix2[1], '#000000'), nightDs()],
  deco: {}
});

// colorbars
colorbar({l: 499, t: 32, r: 518, b: 246}, [0.2600, 0.27826], cbT1, 4, autumn);
colorbar({l: 499, t: 268, r: 518, b: 484}, [0.27451, 0.28152], cbT2, 3, winter);
colorbar({l: 1299, t: 32, r: 1308, b: 246}, [2.27, 8.32], cbE1, 0, autumn);
colorbar({l: 1299, t: 268, r: 1308, b: 484}, [5.8263, 6.0865], cbE2, 2, winter);
colorbar({l: 499, t: 577, r: 518, b: 792}, [0.3405, 0.6326], cbT3, 2, cool);
colorbar({l: 499, t: 814, r: 518, b: 1029}, [0.300969, 0.301303], cbT4, 5, winter);
colorbar({l: 1299, t: 577, r: 1308, b: 792}, [3.8775, 4.2236], cbE3, 2, cool);

// text labels
const labels = [
  ['TRAPPIST-1b, H<sub>2</sub>O-Outgassed Atmospheres', 687, 12, 'ttl'],
  ['TRAPPIST-1b, H<sub>2</sub>O &amp; CO<sub>2</sub>-Outgassed Atmospheres', 687, 557, 'ttl'],
  ['Transit Depth [ppm]', 40, 265, 'rot'],
  ['Transit Depth [ppm]', 40, 812, 'rot'],
  ['Fit to Lim+2023 [<i>σ</i>]', 568, 225, 'rot'],
  ['Fit to Lim+2023 [<i>σ</i>]', 573, 803, 'rot'],
  ['SE Depth (Dayside Emission) [ppm]', 600, 238, 'rot'],
  ['SE Depth (Dayside Emission) [ppm]', 600, 812, 'rot'],
  ['Contrast (Nightside Emission) [ppm]', 1085, 228, 'rot'],
  ['Contrast (Nightside Emission) [ppm]', 1085, 824, 'rot'],
  ['Fit to All Emission Data [<i>σ</i>]', 1345, 225, 'rot'],
  ['Fit to All Emission Data [<i>σ</i>]', 1345, 685, 'rot'],
  ['Wavelength [<i>μ</i>m]', 299, 515, ''],
  ['Wavelength [<i>μ</i>m]', 861, 515, ''],
  ['Wavelength [<i>μ</i>m]', 1214, 515, ''],
  ['Wavelength [<i>μ</i>m]', 299, 1060, ''],
  ['Wavelength [<i>μ</i>m]', 861, 1060, ''],
  ['Wavelength [<i>μ</i>m]', 1219, 1060, '']
];
labels.forEach(([html, x, y, cls]) => {
  const d = document.createElement('div');
  d.className = 'lbl ' + cls;
  d.innerHTML = html;
  d.style.left = x + 'px'; d.style.top = y + 'px';
  fig.appendChild(d);
});
</script>
</body>
</html>
